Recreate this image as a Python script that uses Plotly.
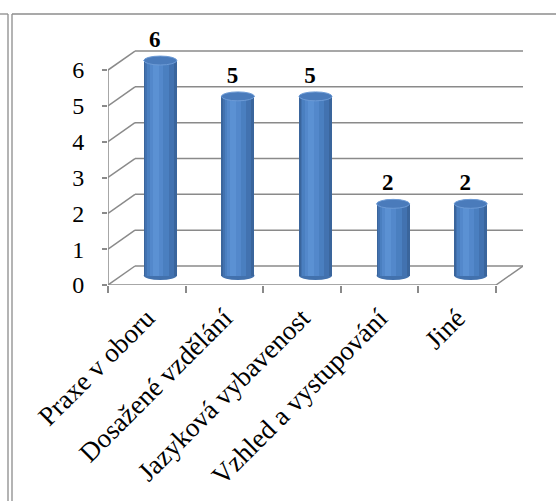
import plotly.graph_objects as go

categories = ["Praxe v oboru", "Dosažené vzdělání", "Jazyková vybavenost",
              "Vzhled a vystupování", "Jiné"]
values = [6, 5, 5, 2, 2]
y_ticks = [0, 1, 2, 3, 4, 5, 6]

# --- pseudo-3D geometry (in axis units) ---
DX, DY = 0.348, 0.53          # depth offset of back wall
BAR_W = 0.425                 # cylinder diameter
ELL_H = 0.125                 # half-height of cylinder end ellipses
LAB_OFF = 0.80                # label offset above value
X_MIN, X_MAX = -0.5, len(categories) - 0.5 + DX
GRID = "#8a8a8a"
FONT = "Liberation Serif"

W, H = 556, 501
ML, MR, MT, MB = 108, 33, 20, 216
PW, PH = W - ML - MR, H - MT - MB
UNIT = 35.83                  # pixels per value unit
Y_MAX = PH / UNIT

def px_x(px):
    return (px - ML) / PW

def px_y(py):
    return (H - MB - py) / PH

cx = [i + DX / 2 for i in range(len(categories))]
base = DY / 2

fig = go.Figure()

# cylinder bodies: layered bars for shading
layers = [
    (1.00, 0.00, "#3a659c"),
    (0.86, -0.01, "#4272b0"),
    (0.66, -0.03, "#4a7fc0"),
    (0.42, -0.05, "#5388cb"),
    (0.18, -0.06, "#5b91d3"),
]
for frac, shift, col in layers:
    fig.add_trace(go.Bar(
        x=[c + shift for c in cx], y=values, base=base,
        width=BAR_W * frac, marker=dict(color=col, line=dict(width=0)),
        hoverinfo="skip", showlegend=False))

# value labels
fig.add_trace(go.Scatter(
    x=[c - 0.07 for c in cx], y=[v + LAB_OFF for v in values],
    mode="text", text=["<b>%d</b>" % v for v in values],
    textfont=dict(family=FONT, size=23, color="black"),
    textposition="middle center", cliponaxis=False,
    hoverinfo="skip", showlegend=False))

shapes = []
line = dict(color=GRID, width=1.5)
# back wall gridlines + diagonals
for t in y_ticks:
    shapes.append(dict(type="line", xref="x", yref="y", layer="below",
                       x0=X_MIN + DX, x1=X_MAX, y0=t + DY, y1=t + DY, line=line))
    shapes.append(dict(type="line", xref="x", yref="y", layer="below",
                       x0=X_MIN, x1=X_MIN + DX, y0=t, y1=t + DY, line=line))
# floor front edge and right edge
shapes.append(dict(type="line", xref="x", yref="y", layer="below",
                   x0=X_MIN, x1=X_MAX - DX, y0=0, y1=0, line=line))
shapes.append(dict(type="line", xref="x", yref="y", layer="below",
                   x0=X_MAX - DX, x1=X_MAX, y0=0, y1=DY, line=line))
# front value axis line
shapes.append(dict(type="line", xref="x", yref="y", layer="below",
                   x0=X_MIN, x1=X_MIN, y0=0, y1=max(y_ticks), line=line))

# cylinder ends
for c, v in zip(cx, values):
    shapes.append(dict(type="circle", xref="x", yref="y", layer="between",
                       x0=c - BAR_W / 2, x1=c + BAR_W / 2,
                       y0=base - ELL_H, y1=base + ELL_H,
                       fillcolor="#4271ad", line=dict(width=0)))
    shapes.append(dict(type="circle", xref="x", yref="y", layer="above",
                       x0=c - BAR_W / 2, x1=c + BAR_W / 2,
                       y0=v + base - ELL_H, y1=v + base + ELL_H,
                       fillcolor="#4a7bbb", line=dict(color="#6d9bd6", width=1)))

# outer frame
frame = dict(color="#8c8c8c", width=1.3)
shapes += [
    dict(type="line", xref="paper", yref="paper", x0=px_x(0), x1=px_x(8),
         y0=px_y(14), y1=px_y(14), line=frame),
    dict(type="line", xref="paper", yref="paper", x0=px_x(12), x1=px_x(W),
         y0=px_y(14), y1=px_y(14), line=frame),
    dict(type="line", xref="paper", yref="paper", x0=px_x(8), x1=px_x(8),
         y0=px_y(14), y1=px_y(H), line=frame),
    dict(type="line", xref="paper", yref="paper", x0=px_x(12), x1=px_x(12),
         y0=px_y(14), y1=px_y(H), line=frame),
]

fig.update_layout(
    width=W, height=H, margin=dict(l=ML, r=MR, t=MT, b=MB, autoexpand=False),
    paper_bgcolor="white", plot_bgcolor="white",
    barmode="overlay", bargap=0, showlegend=False,
    shapes=shapes,
    font=dict(family=FONT, color="black"),
    xaxis=dict(range=[X_MIN, X_MAX], tickmode="array", automargin=False,
               tickvals=list(range(len(categories))), ticktext=categories,
               tickangle=-45, ticks="", showgrid=False, zeroline=False,
               showline=False, ticklabelstandoff=11,
               tickfont=dict(family=FONT, size=27, color="black"),
               minor=dict(tickmode="array",
                          tickvals=[i - 0.5 for i in range(len(categories) + 1)],
                          ticks="outside", ticklen=7, tickcolor=GRID, tickwidth=1.5,
                          showgrid=False),
               fixedrange=True),
    yaxis=dict(range=[0, Y_MAX], tickmode="array", tickvals=y_ticks, automargin=False,
               ticks="outside", ticklen=5, tickcolor=GRID, tickwidth=1.5,
               ticklabelstandoff=13, showgrid=False, zeroline=False, showline=False,
               tickfont=dict(family=FONT, size=24, color="black"), fixedrange=True),
)

fig.write_html("out.html")
